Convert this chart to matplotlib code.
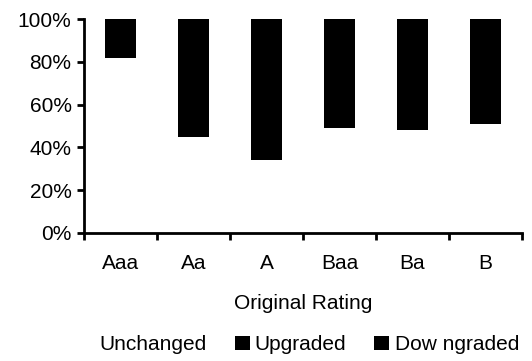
import matplotlib
matplotlib.use("Agg")
import matplotlib.pyplot as plt
import numpy as np

plt.rcParams['font.family'] = ['Liberation Sans', 'DejaVu Sans']

# datos (en %)
ratings = ["Aaa", "Aa", "A", "Baa", "Ba", "B"]
unchanged = [82, 45, 34, 49, 48, 51]
upgraded = [0, 5, 8, 12, 18, 22]
downgraded = [18, 50, 58, 39, 34, 27]
yticks = [0, 20, 40, 60, 80, 100]

fig = plt.figure(figsize=(5.32, 3.61), dpi=100)
ax = fig.add_axes([0.158, 0.355, 0.823, 0.592])

x = np.arange(len(ratings))
w = 0.42
ax.bar(x, unchanged, w, color="white", label="Unchanged")
ax.bar(x, upgraded, w, bottom=unchanged, color="black", label="Upgraded")
bottom2 = np.array(unchanged) + np.array(upgraded)
ax.bar(x, downgraded, w, bottom=bottom2, color="black", label="Dow ngraded")

ax.set_xlim(-0.5, len(ratings) - 0.5)
ax.set_ylim(0, 100)
ax.set_yticks(yticks)
ax.set_yticklabels([f"{v}%" for v in yticks], fontsize=15)

# ticks en los limites de categoria, etiquetas al centro
ax.set_xticks(np.arange(-0.5, len(ratings), 1.0))
ax.set_xticklabels([])
ax.set_xticks(x, minor=True)
ax.set_xticklabels(ratings, minor=True, fontsize=15)
ax.tick_params(axis="x", which="major", direction="out", length=5, width=2)
ax.tick_params(axis="x", which="minor", length=0, pad=15)
ax.tick_params(axis="y", direction="out", length=5, width=2, pad=4)

for s in ["top", "right"]:
    ax.spines[s].set_visible(False)
for s in ["left", "bottom"]:
    ax.spines[s].set_linewidth(2)

ax.set_xlabel("Original Rating", fontsize=15, labelpad=15)

fig.legend(loc="center", bbox_to_anchor=(0.562, 0.045), ncol=3, frameon=False,
           fontsize=15, handlelength=0.72, handleheight=0.65, handletextpad=0.25,
           columnspacing=1.35)

fig.savefig("out.png", dpi=100)
